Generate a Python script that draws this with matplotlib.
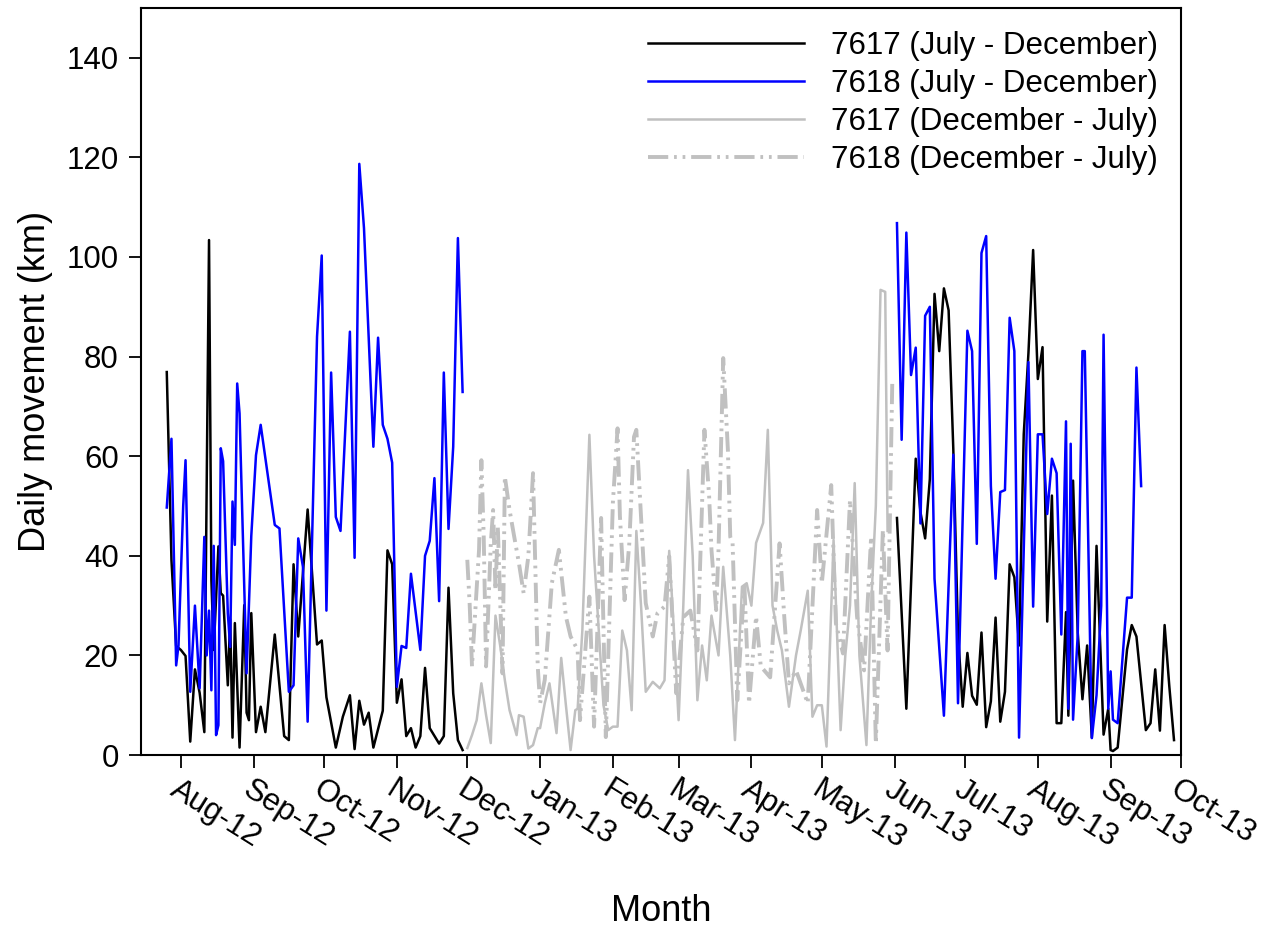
import numpy as np
import matplotlib
matplotlib.use("Agg")
import matplotlib.pyplot as plt
import matplotlib.dates as mdates

plt.rcParams['font.family'] = ['Liberation Sans', 'DejaVu Sans']

BASE = np.datetime64('2012-08-01')

# 7617 (July - December) 2012, day offsets from 2012-08-01
b1_days = [-6,-4,-2,0,2,4,6,8,10,12,13,14,16,17,18,20,21,22,23,25,27,28,29,30,32,34,36,40,44,46,
           48,50,54,58,60,62,66,69,72,74,76,78,80,82,86,88,90,92,94,96,98,100,102,104,106,110,112,114,116,118,120]
b1_vals = [76.9,39.1,21.9,21.1,19.9,2.7,17.2,12.5,4.6,103.4,35.2,21.1,41.9,32.5,32.0,14.0,27.3,3.5,26.5,1.5,
           30.1,8.5,7.0,28.5,4.6,9.7,4.6,24.2,3.8,3.0,38.3,23.8,49.3,22.2,23.0,11.6,1.5,7.7,12.0,1.2,
           10.9,6.1,8.5,1.5,8.9,41.1,38.3,10.5,15.2,3.8,5.4,1.5,3.8,17.5,5.4,2.3,3.8,33.6,12.4,3.0,1.0]

# 7617 (July - December) 2013
b2_days = [305,309,313,315,317,319,321,323,325,327,329,331,333,335,337,339,341,343,345,347,349,351,353,355,357,
           359,361,363,365,367,369,371,373,375,377,378,380,382,384,386,388,390,392,393,395,396,397,399,403,405,407,
           411,413,415,417,419,421,423]
b2_vals = [47.6,9.3,59.5,48.8,43.5,55.4,92.6,81.1,93.7,89.3,61.4,24.2,9.7,20.5,11.9,10.1,24.6,5.6,10.8,27.6,6.7,
           12.7,38.3,35.7,22.0,64.4,80.7,101.4,75.5,81.9,26.8,52.1,6.4,6.4,28.7,7.9,55.1,24.6,11.2,22.0,3.5,42.0,
           16.8,4.1,9.3,1.0,0.8,1.5,21.2,26.1,23.8,5.0,6.4,17.2,4.9,26.1,13.8,3.0]

# 7618 (July - December) 2012
u1_days = [-6,-4,-2,-1,1,2,4,6,8,10,11,12,13,14,15,16,17,18,20,21,22,23,24,25,28,30,32,34,40,42,
           46,48,50,52,54,58,60,62,64,66,68,72,74,76,78,82,84,86,88,90,92,94,96,98,102,104,106,108,110,112,
           114,116,118,120]
u1_vals = [49.7,63.5,18,22,50,59.2,12.7,30,13.4,43.8,20,29,13,42,4,6,61.6,59,28.5,21.7,
           50.9,42.2,74.6,68.6,16.4,44,60.2,66.3,46.2,45.5,12.7,14,43.5,37.8,6.7,84,100.3,29.0,76.8,47.8,
           45,85,39.6,118.7,105.8,61.9,83.8,66.3,63.5,58.7,13.7,21.9,21.5,36.4,21.1,40,43,55.6,30.9,76.8,
           45.4,61.9,103.8,72.9]

# 7618 (July - December) 2013
u2_days = [305,307,309,311,313,315,317,319,321,325,329,331,335,337,339,341,343,345,347,349,351,353,355,357,
           361,363,365,367,369,371,373,375,377,378,379,380,382,384,385,388,390,392,393,395,396,397,399,403,405,407,409]
u2_vals = [106.8,63.3,104.9,76.3,81.8,46.5,88.2,90.0,35.4,7.9,60.3,10.4,85.2,81.1,42.4,100.8,104.2,54.0,35.4,
           52.8,53.2,87.8,81.1,3.5,78.9,29.8,64.4,64.4,48.4,59.5,56.6,24.2,67.0,9.3,62.5,7.1,24.2,81.1,81.1,
           3.4,12,30,84.4,9.3,16.8,7.1,6.4,31.6,31.6,77.8,54.0]

# 7617 (December - July)
g1_days = [122,124,126,128,130,132,134,136,138,140,143,144,146,148,150,152,153,155,157,160,162,164,166,168,169,
           171,174,176,178,180,182,184,186,188,190,192,194,196,198,201,204,206,208,210,212,214,216,218,220,222,
           224,226,229,231,234,236,239,241,243,245,248,250,252,254,256,259,262,264,267,269,271,273,275,278,281,
           283,285,287,289,292,294,296,298,300,301]
g1_vals = [1.4,4,7.0,14.4,8,2.4,28,22,15,9,4,8,7.7,1.3,2,5.4,5.4,10.4,14.4,4.4,19.5,10,1.0,9.0,9.3,
           25,64.3,40,25,10,5.0,5.7,5.7,25,21,9,45,30,12.7,14.7,13.4,15,41,25,7,30,57.2,40,11,22,
           15,28,20,37.8,20,3.0,33.8,34.5,30,42.6,46.6,65.3,30,25,21,9.7,20,25,33,7.7,10,10,1.7,43.2,5,
           20,30,54.6,20,2,30,50,93.4,93,45]

# 7618 (December - July)
g2_days = [122,123,124,125,127,128,129,130,132,133,134,135,137,138,140,142,144,146,148,150,152,153,155,158,161,
           164,166,169,170,174,176,179,181,184,186,187,189,191,193,194,196,198,201,203,206,208,211,214,217,220,
           223,225,226,228,229,231,233,234,235,237,240,242,245,247,251,255,257,259,262,267,271,273,277,279,282,
           285,288,291,294,296,299,301,303]
g2_vals = [39.2,30.4,17.8,25.8,41.2,59.2,43.8,17.8,42.4,49.2,33.1,45.8,16.4,55.9,49.2,43.8,38.5,32.5,39.9,56.6,
           17.8,10.4,15.1,34.5,41.2,27.8,23.8,21.1,7.0,31.8,5.7,47.6,3.6,50.6,65.6,48,31.1,42.5,63.9,65.3,
           47.8,30.5,23.8,28.5,29.8,39.9,12.4,27.7,29,21,65.3,52,41.2,29.1,41.2,79.7,61.2,43.8,42.5,11,
           34.5,10.4,27.8,17.8,15.6,42.5,27.8,14.4,17,10.4,49.2,34.5,54.2,26.4,20.4,51.2,27.8,17,43.8,2.3,
           45.2,21,74.7]

labels = ['7617 (July - December)', '7618 (July - December)',
          '7617 (December - July)', '7618 (December - July)']
month_ticks = ['2012-08-01','2012-09-01','2012-10-01','2012-11-01','2012-12-01','2013-01-01','2013-02-01',
               '2013-03-01','2013-04-01','2013-05-01','2013-06-01','2013-07-01','2013-08-01','2013-09-01','2013-10-01']


def to_dates(days):
    return BASE + np.array(days).astype('timedelta64[D]')


fig = plt.figure(figsize=(12.72, 9.27), dpi=100)
ax = fig.add_axes([0.1108, 0.1855, 0.8177, 0.8059])

gray = '#c0c0c0'
l1, = ax.plot(to_dates(b1_days), b1_vals, color='black', lw=1.8, label=labels[0])
ax.plot(to_dates(b2_days), b2_vals, color='black', lw=1.8)
l2, = ax.plot(to_dates(u1_days), u1_vals, color='#0000ff', lw=1.8, label=labels[1])
ax.plot(to_dates(u2_days), u2_vals, color='#0000ff', lw=1.8)
l3, = ax.plot(to_dates(g1_days), g1_vals, color=gray, lw=1.8, label=labels[2])
l4, = ax.plot(to_dates(g2_days), g2_vals, color=gray, lw=2.8,
              linestyle=(0, (5.2, 1.5, 0.7, 1.5, 0.7, 1.5)), label=labels[3])

ax.set_xlim(np.datetime64('2012-07-15'), np.datetime64('2013-10-01'))
ax.set_ylim(0, 150)
ax.set_yticks(np.arange(0, 141, 20))
ax.set_xticks([np.datetime64(t) for t in month_ticks])
ax.xaxis.set_major_formatter(mdates.DateFormatter('%b-%y'))

ax.tick_params(axis='both', direction='out', length=9, width=1.3, labelsize=22.5)
ax.tick_params(axis='y', pad=7)
ax.tick_params(axis='x', pad=5)
for lab in ax.get_xticklabels():
    lab.set_rotation(-32)
    lab.set_ha('left')
    lab.set_va('top')
    lab.set_rotation_mode('anchor')
for s in ax.spines.values():
    s.set_linewidth(1.5)

ax.set_ylabel('Daily movement (km)', fontsize=26, labelpad=10)
ax.set_xlabel('Month', fontsize=26, labelpad=28)

ax.legend(handles=[l1, l2, l3, l4], loc='upper right', frameon=False, fontsize=22.5,
          handlelength=5.0, handletextpad=0.85, labelspacing=0.25, borderaxespad=0.35)

fig.savefig('out.png', dpi=100)
